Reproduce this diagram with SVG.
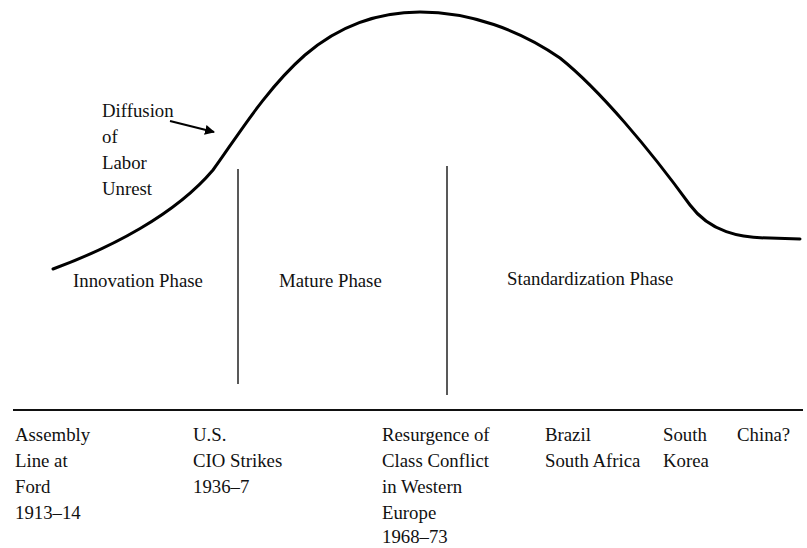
<svg xmlns="http://www.w3.org/2000/svg" width="807" height="548" viewBox="0 0 807 548">
<style>
text{font-family:"Liberation Serif","Tinos","Times New Roman","DejaVu Serif",serif;font-size:18.8px;fill:#111}
.curve{fill:none;stroke:#000;stroke-width:3;stroke-linecap:round;stroke-linejoin:round}
.div{stroke:#222;stroke-width:1.5}
.base{stroke:#111;stroke-width:2}
.arr{stroke:#000;stroke-width:2;fill:none}
</style>
<defs>
<marker id="ah" viewBox="0 0 10 10" refX="9" refY="5" markerWidth="5" markerHeight="5" orient="auto" markerUnits="strokeWidth">
<path d="M0,0 L10,5 L0,10 Z" fill="#000"/>
</marker>
</defs>
<rect width="807" height="548" fill="#fff"/>
<g id="connectors">
<path class="curve" d="M53,269 C110,248 175,215 213,170 C235,140 265,90 305,55 C340,25 380,12 420,12 C470,12 520,30 560,58 C600,90 650,150 690,205 C710,232 740,238 770,238 L800,239"/>
<line class="arr" x1="170" y1="121" x2="214" y2="132" marker-end="url(#ah)"/>
<line class="div" x1="238" y1="169" x2="238" y2="384"/>
<line class="div" x1="447" y1="166" x2="447" y2="395"/>
<line class="base" x1="13" y1="410" x2="803" y2="410"/>
</g>
<g id="diffusion">
<text x="102" y="117">Diffusion</text>
<text x="102" y="143">of</text>
<text x="102" y="169">Labor</text>
<text x="102" y="195">Unrest</text>
</g>
<g id="phases">
<text x="73" y="287">Innovation Phase</text>
<text x="279" y="287">Mature Phase</text>
<text x="507" y="285">Standardization Phase</text>
</g>
<g id="ford">
<text x="15" y="441">Assembly</text>
<text x="15" y="467">Line at</text>
<text x="15" y="493">Ford</text>
<text x="15" y="519">1913–14</text>
</g>
<g id="cio">
<text x="193" y="441">U.S.</text>
<text x="193" y="467">CIO Strikes</text>
<text x="193" y="493">1936–7</text>
</g>
<g id="europe">
<text x="382" y="441">Resurgence of</text>
<text x="382" y="467">Class Conflict</text>
<text x="382" y="493">in Western</text>
<text x="382" y="519">Europe</text>
<text x="382" y="543">1968–73</text>
</g>
<g id="brazil">
<text x="545" y="441">Brazil</text>
<text x="545" y="467">South Africa</text>
</g>
<g id="korea">
<text x="663" y="441">South</text>
<text x="663" y="467">Korea</text>
</g>
<g id="china">
<text x="737" y="441">China?</text>
</g>
</svg>
